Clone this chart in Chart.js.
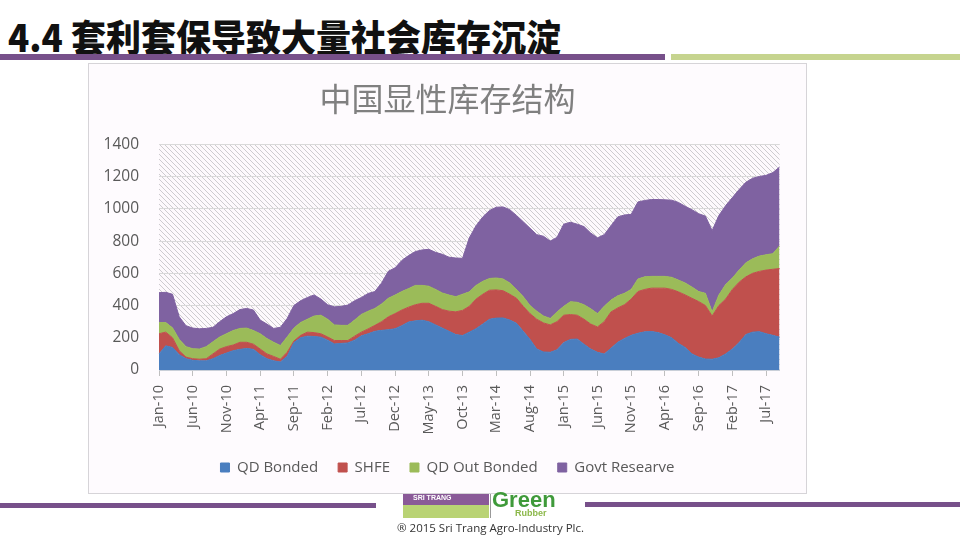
<!DOCTYPE html>
<html>
<head>
<meta charset="utf-8">
<script src="https://cdn.jsdelivr.net/npm/chart.js@4.4.1/dist/chart.umd.min.js"></script>
<style>
  html, body { margin: 0; padding: 0; background: #fff; }
  body { width: 960px; height: 540px; position: relative; overflow: hidden; font-family: "Open Sans", "Noto Sans", sans-serif; }
  #title { position: absolute; left: 8px; top: 17px; font: 900 35px/1 "Noto Sans CJK SC", sans-serif; color: #111; transform: scaleY(1.06); transform-origin: left top; }
  .bar { position: absolute; }
  #frame { position: absolute; left: 88px; top: 63px; width: 717px; height: 429px; border: 1px solid #d6d4d8; background: #fefbfe; }
  #copy { position: absolute; left: 397px; top: 520px; font-size: 11.5px; color: #333; }
  #logo1 { position: absolute; left: 403px; top: 494px; width: 86px; height: 24px; background: linear-gradient(#8a5a98 0 45%, #b9d374 45% 100%); }
  #logo1 span { position: absolute; left: 10px; top: 0px; font: bold 7px/8px "Liberation Sans", sans-serif; color: #fff; }
  #logo2 { position: absolute; left: 492px; top: 489px; font: bold 22px/22px "Liberation Sans", sans-serif; color: #3f9a3a; }
  #logo3 { position: absolute; left: 515px; top: 509px; font: bold 9px/9px "Liberation Sans", sans-serif; color: #8cb84a; }
  #sep { position: absolute; left: 490px; top: 494px; width: 1px; height: 24px; background: #999; }
</style>
</head>
<body>
<div id="title">4.4 套利套保导致大量社会库存沉淀</div>
<div class="bar" style="left:0;top:54px;width:665px;height:6px;background:#77508a"></div>
<div class="bar" style="left:671px;top:54px;width:289px;height:6px;background:#c6d48f"></div>
<div id="frame"><canvas id="myChart" width="717" height="429"></canvas></div>
<div class="bar" style="left:0;top:503px;width:376px;height:5px;background:#77508a"></div>
<div class="bar" style="left:585px;top:502px;width:375px;height:5px;background:#77508a"></div>
<div id="logo1"><span>SRI TRANG</span></div>
<div id="sep"></div>
<div id="logo2">Green</div>
<div id="logo3">Rubber</div>
<div id="copy">® 2015 Sri Trang Agro-Industry Plc.</div>
<script>
var monthNames = ["Jan", "Feb", "Mar", "Apr", "May", "Jun", "Jul", "Aug", "Sep", "Oct", "Nov", "Dec"];
var months = [];
for (var yr = 10; yr <= 17; yr++) {
    for (var m = 0; m < 12; m++) {
        if (yr === 17 && m > 8) break;
        months.push(monthNames[m] + "-" + yr);
    }
}

var qdBonded = [100, 150, 140, 95, 70, 60, 57, 57, 70, 90,
    105, 120, 128, 134, 128, 95, 70, 57, 50, 85,
    170, 200, 210, 208, 204, 185, 162, 165, 168, 185,
    212, 225, 240, 246, 250, 256, 275, 298, 305, 309,
    300, 280, 260, 240, 220, 214, 235, 256, 285, 315,
    322, 323, 310, 290, 240, 190, 130, 112, 110, 125,
    170, 190, 192, 160, 130, 110, 99, 135, 172, 195,
    215, 228, 237, 239, 232, 218, 200, 165, 140, 100,
    80, 68, 67, 76, 100, 130, 170, 220, 235, 238,
    225, 215, 204];
var shfe = [125, 85, 60, 25, 10, 10, 10, 13, 30, 40,
    40, 35, 44, 38, 32, 35, 30, 27, 17, 25,
    10, 15, 25, 24, 21, 20, 21, 18, 15, 25,
    23, 30, 37, 54, 80, 94, 97, 92, 100, 105,
    114, 115, 115, 125, 141, 156, 160, 184, 185, 180,
    175, 169, 160, 155, 155, 160, 185, 180, 170, 175,
    170, 154, 148, 155, 155, 157, 201, 225, 213, 210,
    225, 259, 263, 269, 276, 290, 300, 320, 326, 345,
    345, 332, 268, 324, 340, 370, 375, 358, 365, 374,
    395, 410, 426];
var qdOutBonded = [69, 59, 62, 70, 65, 62, 63, 75, 75, 75,
    80, 90, 86, 88, 85, 95, 95, 88, 85, 95,
    80, 80, 80, 103, 115, 110, 97, 94, 94, 100,
    110, 110, 105, 110, 115, 115, 115, 115, 120, 111,
    106, 105, 103, 100, 94, 100, 90, 85, 80, 73,
    74, 73, 70, 55, 60, 50, 50, 43, 40, 60,
    55, 80, 80, 90, 95, 83, 95, 74, 75, 71,
    60, 78, 78, 73, 73, 73, 75, 73, 74, 70,
    62, 76, 26, 66, 90, 71, 75, 87, 90, 95,
    95, 97, 140];
var govtReserve = [186, 188, 208, 140, 130, 128, 126, 113, 90, 95,
    105, 105, 117, 122, 127, 85, 90, 86, 113, 115,
    140, 135, 135, 131, 100, 90, 112, 118, 126, 120,
    105, 110, 105, 130, 168, 169, 193, 205, 210, 220,
    229, 230, 240, 235, 240, 223, 335, 370, 400, 422,
    439, 447, 455, 459, 465, 480, 475, 495, 480, 463,
    510, 493, 485, 485, 470, 470, 445, 461, 490, 486,
    466, 478, 474, 477, 477, 475, 479, 482, 476, 480,
    483, 479, 504, 493, 490, 499, 500, 500, 500, 494,
    493, 503, 490];
var yTicks = [0, 200, 400, 600, 800, 1000, 1200, 1400];

var hatch = document.createElement("canvas");
hatch.width = 5;
hatch.height = 5;
var hctx = hatch.getContext("2d");
hctx.fillStyle = "#fdf9fc";
hctx.fillRect(0, 0, 5, 5);
hctx.strokeStyle = "#cdcbcf";
hctx.lineWidth = 1;
hctx.beginPath();
hctx.moveTo(-1, -1); hctx.lineTo(6, 6);
hctx.moveTo(-1, 4); hctx.lineTo(1, 6);
hctx.moveTo(4, -1); hctx.lineTo(6, 1);
hctx.stroke();

var hatchPlugin = {
    id: "hatch",
    beforeDraw: function (chart) {
        var a = chart.chartArea;
        var c = chart.ctx;
        c.save();
        c.fillStyle = c.createPattern(hatch, "repeat");
        c.fillRect(a.left, a.top, a.right - a.left, a.bottom - a.top);
        c.restore();
    }
};

function series(label, data, color, fill) {
    return {
        label: label,
        data: data,
        backgroundColor: color,
        borderColor: color,
        borderWidth: 1,
        pointRadius: 0,
        fill: fill,
        tension: 0
    };
}

var ctx = document.getElementById("myChart").getContext("2d");
new Chart(ctx, {
    type: "line",
    data: {
        labels: months,
        datasets: [
            series("QD Bonded", qdBonded, "#4a7ebf", "origin"),
            series("SHFE", shfe, "#c0504d", "-1"),
            series("QD Out Bonded", qdOutBonded, "#9bbb59", "-1"),
            series("Govt Researve", govtReserve, "#7f62a1", "-1")
        ]
    },
    options: {
        responsive: false,
        animation: false,
        layout: { padding: { left: 0, right: 0, top: 0, bottom: 8 } },
        plugins: {
            title: {
                display: true,
                text: "中国显性库存结构",
                color: "#808080",
                font: { family: "Noto Sans CJK SC", size: 32, weight: "normal" },
                padding: { top: 16, bottom: 26 }
            },
            legend: {
                position: "bottom",
                labels: {
                    color: "#595959",
                    font: { family: "Open Sans", size: 15 },
                    boxWidth: 9,
                    boxHeight: 9,
                    padding: 20
                }
            },
            tooltip: { enabled: false }
        },
        scales: {
            x: {
                grid: {
                    drawOnChartArea: false,
                    tickLength: 6,
                    color: function (c) { return c.index % 5 === 0 ? "#bfbfbf" : "rgba(0,0,0,0)"; }
                },
                border: { display: true, color: "#c9cfd8" },
                ticks: {
                    autoSkip: false,
                    maxRotation: 90,
                    minRotation: 90,
                    padding: 9,
                    color: "#595959",
                    font: { family: "Open Sans", size: 14.5 },
                    callback: function (v, i) { return i % 5 === 0 ? months[i] : ""; }
                },
                afterFit: function (s) { s.height = 70; }
            },
            y: {
                stacked: true,
                min: 0,
                max: 1400,
                afterBuildTicks: function (s) { s.ticks = yTicks.map(function (v) { return { value: v }; }); },
                grid: { color: "#d9d9d9", drawTicks: false },
                border: { display: false },
                ticks: {
                    padding: 20,
                    color: "#595959",
                    font: { family: "Open Sans", size: 15.5 },
                    callback: function (v) { return String(v); }
                },
                afterFit: function (s) { s.width = 70; }
            },
            yRight: {
                position: "right",
                grid: { display: false },
                border: { display: false },
                ticks: { display: false },
                afterFit: function (s) { s.width = 21; }
            }
        }
    },
    plugins: [hatchPlugin]
});
</script>
</body>
</html>
